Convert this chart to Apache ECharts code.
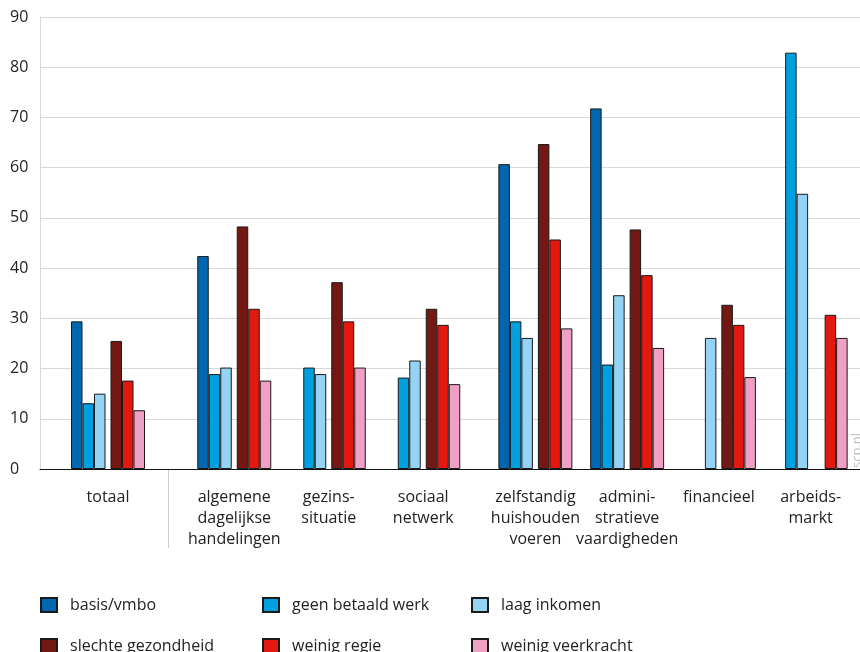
<!DOCTYPE html>
<html><head><meta charset="utf-8">
<script src="https://cdn.jsdelivr.net/npm/echarts@6/dist/echarts.min.js"></script>
<style>html,body{margin:0;padding:0;background:#fff}#c{width:860px;height:652px}</style>
</head><body><div id="c"></div>
<script>
// ---- data ----
const categories = ['totaal', 'algemene\ndagelijkse\nhandelingen', 'gezins-\nsituatie', 'sociaal\nnetwerk',
  'zelfstandig\nhuishouden\nvoeren', 'admini-\nstratieve\nvaardigheden', 'financieel', 'arbeids-\nmarkt'];
const seriesNames = ['basis/vmbo', 'geen betaald werk', 'laag inkomen', 'slechte gezondheid', 'weinig regie', 'weinig veerkracht'];
const basisVmbo         = [29.4, 42.4, null, null, 60.7, 71.8, null, null];
const geenBetaaldWerk   = [13.1, 18.9, 20.2, 18.2, 29.4, 20.8, null, 82.9];
const laagInkomen       = [15.0, 20.2, 18.9, 21.6, 26.1, 34.6, 26.1, 54.8];
const slechteGezondheid = [25.5, 48.3, 37.2, 31.9, 64.7, 47.7, 32.7, null];
const weinigRegie       = [17.6, 31.9, 29.4, 28.7, 45.7, 38.6, 28.7, 30.7];
const weinigVeerkracht  = [11.7, 17.6, 20.2, 16.9, 28.0, 24.1, 18.3, 26.1];
const yTickLabels = [0, 10, 20, 30, 40, 50, 60, 70, 80, 90];

// ---- layout / styling ----
const colors = ['#0066b0', '#009fe0', '#94d3f3', '#731813', '#e3190f', '#f0a0c5'];
const values = [basisVmbo, geenBetaaldWerk, laagInkomen, slechteGezondheid, weinigRegie, weinigVeerkracht];
const FONT = 'Open Sans';
const yMin = yTickLabels[0], yMax = yTickLabels[yTickLabels.length - 1], yStep = yTickLabels[1] - yTickLabels[0];
// category panels: [first index, count, left px, width px]
const panels = [[0, 1, 40, 136], [1, 3, 187, 283.5], [4, 4, 489.5, 367]];

const chart = echarts.init(document.getElementById('c'), null, {renderer: 'canvas'});

function buildSeries(axisIdx, from, count) {
  const slice = a => a.slice(from, from + count);
  const out = [];
  values.forEach((arr, i) => {
    if (i === 3) {
      out.push({type: 'bar', name: '__gap', xAxisIndex: axisIdx, yAxisIndex: axisIdx,
        data: slice(arr).map(() => null), barWidth: 5, barGap: '0%', silent: true});
    }
    out.push({
      type: 'bar', name: seriesNames[i], xAxisIndex: axisIdx, yAxisIndex: axisIdx,
      data: slice(arr), barWidth: 11.5, barGap: '0%',
      itemStyle: {color: colors[i], borderColor: '#1a1a1a', borderWidth: 1},
      emphasis: {disabled: true}
    });
  });
  return out;
}

const labelStyle = {fontFamily: FONT, fontSize: 16, color: '#222', lineHeight: 21};
const grids = [], xAxes = [], yAxes = [];
let series = [];
panels.forEach(([from, count, left, width], g) => {
  grids.push({left: left, width: width, top: 17, bottom: 183});
  xAxes.push({type: 'category', gridIndex: g, data: categories.slice(from, from + count),
    axisLine: {show: false}, axisTick: {show: false},
    axisLabel: Object.assign({margin: 18, interval: 0}, labelStyle)});
  yAxes.push({type: 'value', gridIndex: g, min: yMin, max: yMax, interval: yStep, show: false});
  series = series.concat(buildSeries(g, from, count));
});
// background panel: gridlines, y labels, baseline
const bg = panels.length;
grids.push({left: 40, top: 17, right: 0, bottom: 183});
xAxes.push({type: 'category', gridIndex: bg, data: [''], axisLine: {show: true, lineStyle: {color: '#111', width: 1}},
  axisTick: {show: false}, axisLabel: {show: false}, z: 5});
yAxes.push({type: 'value', gridIndex: bg, min: yMin, max: yMax, interval: yStep,
  axisLine: {show: true, lineStyle: {color: '#d8d8d8', width: 1}},
  axisTick: {show: false},
  splitLine: {show: true, lineStyle: {color: '#d8d8d8', width: 1}},
  axisLabel: {margin: 30, align: 'left', fontFamily: FONT, fontSize: 16, color: '#222'}});

const legendBase = {orient: 'vertical', top: 597, height: 60, padding: 0, itemWidth: 16, itemHeight: 14, itemGap: 25, icon: 'rect',
  textStyle: {fontFamily: FONT, fontSize: 16, color: '#222', padding: [0, 0, 0, 8]}, selectedMode: false};

chart.setOption({
  animation: false,
  grid: grids,
  xAxis: xAxes,
  yAxis: yAxes,
  legend: [
    Object.assign({left: 40, data: [seriesNames[0], seriesNames[3]]}, legendBase),
    Object.assign({left: 262, data: [seriesNames[1], seriesNames[4]]}, legendBase),
    Object.assign({left: 471, data: [seriesNames[2], seriesNames[5]]}, legendBase)
  ],
  graphic: [
    {type: 'line', shape: {x1: 168.5, y1: 470, x2: 168.5, y2: 548}, style: {stroke: '#cccccc', lineWidth: 1}, silent: true},
    {type: 'text', x: 857, y: 468, rotation: Math.PI / 2,
      style: {text: 'scp.nl', fill: '#bdbdbd', font: '13px "Open Sans"', textAlign: 'left', textVerticalAlign: 'middle'}, silent: true}
  ],
  series: series
});
</script>
</body></html>
